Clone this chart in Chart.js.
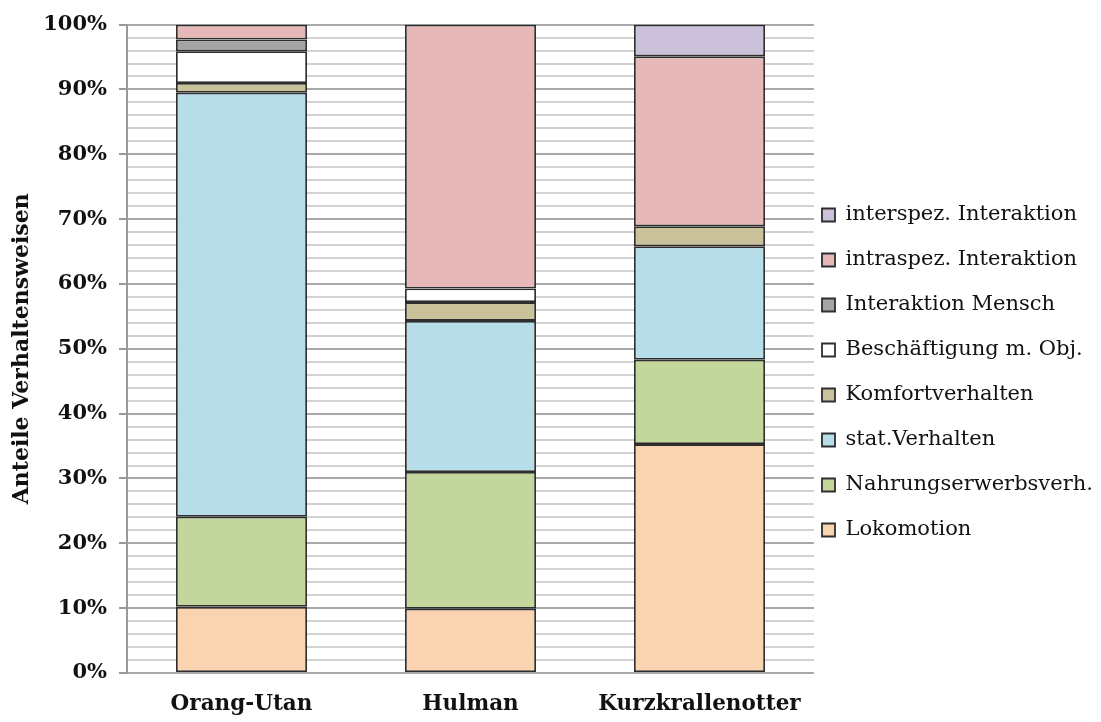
<!DOCTYPE html>
<html>
<head>
<meta charset="utf-8">
<script src="https://cdn.jsdelivr.net/npm/chart.js@4/dist/chart.umd.min.js"></script>
<style>
  html, body { margin: 0; padding: 0; background: #fff; }
  #wrap { width: 1101px; height: 722px; }
</style>
</head>
<body>
<div id="wrap"><canvas id="chart" width="1101" height="722"></canvas></div>
<script>
const animals = ['Orang-Utan', 'Hulman', 'Kurzkrallenotter'];

// Anteile in Prozent, von unten nach oben gestapelt
const lokomotion    = [10.2, 9.9, 35.3];
const nahrung       = [13.9, 21.1, 13.0];
const statVerhalten = [65.4, 23.3, 17.5];
const komfort       = [1.5, 2.9, 3.1];
const beschaeftig   = [4.9, 2.1, 0];
const mensch        = [1.8, 0, 0];
const intraspez     = [2.3, 40.7, 26.2];
const interspez     = [0, 0, 4.9];

const tickStep = 2;

const serif = "'DejaVu Serif', 'Liberation Serif', serif";

function series(label, data, color) {
  return {
    label: label,
    data: data,
    backgroundColor: color,
    borderColor: '#2e2e2e',
    borderWidth: 1.8,
    borderSkipped: false,
    categoryPercentage: 1,
    barPercentage: 0.572
  };
}

// the legend sits a bit closer to the plot and runs to the edge, like in the original
const legendNudge = {
  id: 'legendNudge',
  beforeLayout(chart) {
    const legend = chart.legend;
    if (!legend || legend._nudged) return;
    const fit = legend.fit;
    legend.fit = function () {
      fit.call(this);
      this.width = 287;
    };
    legend._nudged = true;
  },
  afterLayout(chart) {
    const legend = chart.legend;
    legend.left -= 16;
    legend.top += 1;
    legend.bottom += 1;
  }
};

const config = {
  type: 'bar',
  data: {
    labels: animals,
    datasets: [
      series('Lokomotion', lokomotion, '#fad3b0'),
      series('Nahrungserwerbsverh.', nahrung, '#c3d69b'),
      series('stat.Verhalten', statVerhalten, '#b7dde8'),
      series('Komfortverhalten', komfort, '#c9c29b'),
      series('Beschäftigung m. Obj.', beschaeftig, '#ffffff'),
      series('Interaktion Mensch', mensch, '#a5a5a5'),
      series('intraspez. Interaktion', intraspez, '#e6b9b8'),
      series('interspez. Interaktion', interspez, '#ccc1da')
    ]
  },
  plugins: [legendNudge],
  options: {
    responsive: false,
    animation: false,
    layout: { padding: { left: 0, right: 0, top: 21, bottom: 0 } },
    plugins: {
      tooltip: { enabled: false },
      title: { display: false },
      legend: {
        position: 'right',
        reverse: true,
        labels: {
          boxWidth: 13,
          boxHeight: 13,
          padding: 24,
          color: '#111',
          font: { family: serif, size: 21 }
        }
      }
    },
    scales: {
      x: {
        stacked: true,
        grid: { display: false, drawTicks: false },
        border: { display: false },
        afterFit: s => { s.height = 49; },
        ticks: {
          color: '#111',
          padding: 19,
          font: { family: serif, size: 21.5, weight: 'bold' }
        }
      },
      y: {
        stacked: true,
        min: 0,
        max: 100,
        afterFit: s => { s.width = 127; },
        border: { display: true, color: '#9a9a9a', width: 2 },
        grid: {
          color: ctx => (ctx.tick && ctx.tick.value % 10 === 0) ? '#a8a8a8' : '#d2d2d2',
          lineWidth: 2,
          tickLength: 8,
          tickColor: ctx => (ctx.tick && ctx.tick.value % 10 === 0) ? '#9a9a9a' : 'rgba(0,0,0,0)'
        },
        ticks: {
          stepSize: tickStep,
          autoSkip: false,
          color: '#111',
          padding: 12,
          font: { family: serif, size: 21, weight: 'bold' },
          callback: v => (v % 10 === 0) ? v + '%' : ''
        },
        title: {
          display: true,
          text: 'Anteile Verhaltensweisen',
          color: '#111',
          padding: { top: 9, bottom: 0 },
          font: { family: serif, size: 22, weight: 'bold' }
        }
      }
    }
  }
};

const ctx = document.getElementById('chart').getContext('2d');
new Chart(ctx, config);
</script>
</body>
</html>
